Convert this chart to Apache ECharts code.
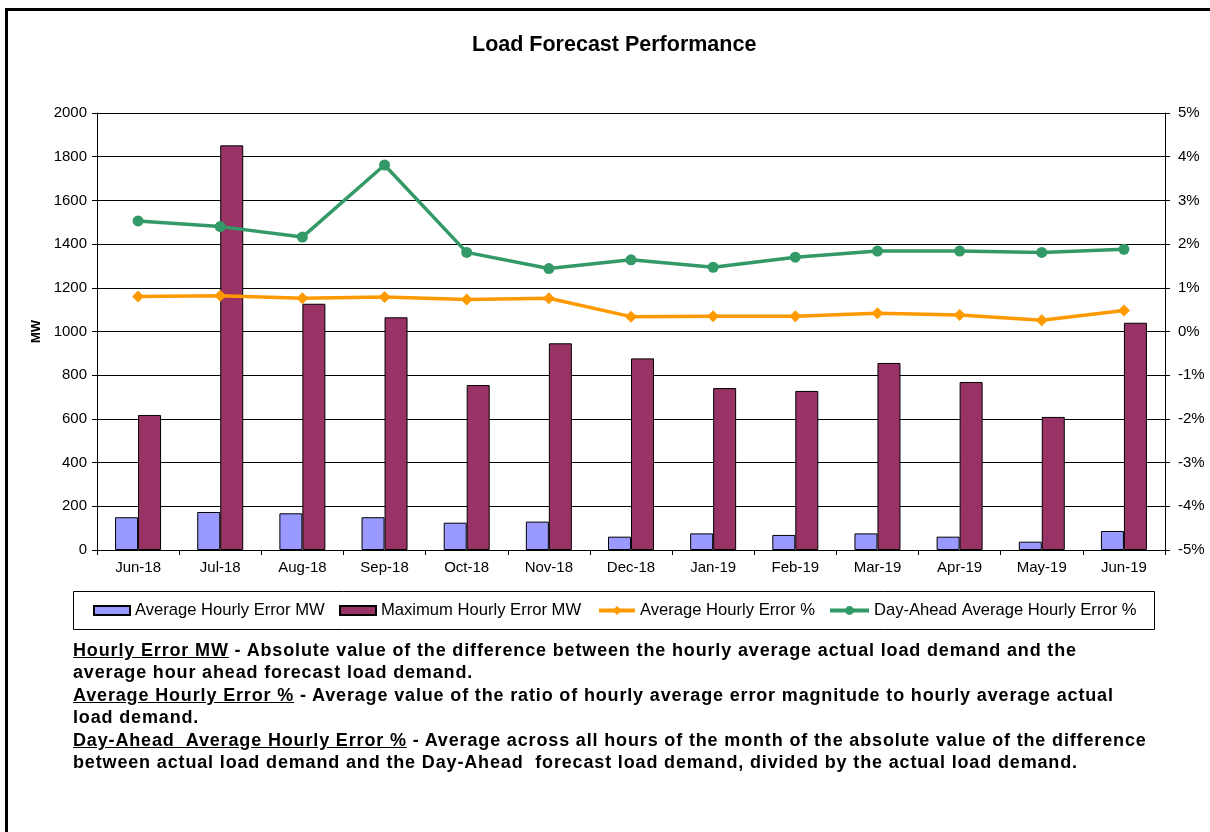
<!DOCTYPE html>
<html>
<head>
<meta charset="utf-8">
<script src="https://cdn.jsdelivr.net/npm/echarts@6/dist/echarts.min.js"></script>
<style>
html,body{margin:0;padding:0;background:#fff;overflow:hidden;}
#frame{position:absolute;left:5px;top:8px;width:1230px;height:850px;border:3px solid #000;box-sizing:border-box;}
#chart{position:absolute;left:0;top:0;width:1210px;height:832px;}
#notes{position:absolute;left:73px;top:639px;font-family:"Liberation Sans",Arial,sans-serif;font-weight:bold;font-size:18px;line-height:22.4px;color:#000;white-space:nowrap;letter-spacing:0.85px;}
#notes u{text-decoration:underline;}
</style>
</head>
<body>
<div id="frame"></div>
<div id="chart"></div>
<div id="notes">
<u>Hourly Error MW</u> - Absolute value of the difference between the hourly average actual load demand and the<br>
average hour ahead forecast load demand.<br>
<u>Average Hourly Error %</u> - Average value of the ratio of hourly average error magnitude to hourly average actual<br>
load demand.<br>
<u>Day-Ahead&nbsp; Average Hourly Error %</u> - Average across all hours of the month of the absolute value of the difference<br>
between actual load demand and the Day-Ahead&nbsp; forecast load demand, divided by the actual load demand.
</div>
<script>
var categories = ['Jun-18','Jul-18','Aug-18','Sep-18','Oct-18','Nov-18','Dec-18','Jan-19','Feb-19','Mar-19','Apr-19','May-19','Jun-19'];
var avgErrorMW = [150,174,168,150,125,130,61,76,69,76,61,38,87];
var maxErrorMW = [618,1852,1127,1065,755,946,877,741,728,856,769,609,1040];
var avgErrorPct = [0.80,0.82,0.76,0.79,0.73,0.76,0.34,0.35,0.35,0.42,0.38,0.26,0.48];
var dayAheadPct = [2.53,2.40,2.16,3.81,1.81,1.44,1.64,1.47,1.70,1.84,1.84,1.81,1.88];
var seriesNames = ['Average Hourly Error MW','Maximum Hourly Error MW','Average Hourly Error %','Day-Ahead Average Hourly Error %'];

var chart = echarts.init(document.getElementById('chart'));
var font = '"Liberation Sans", Arial, sans-serif';
var legendLefts = [93, 339, 597, 828];
var legendWidths = [36, 36, 36, 39];
var legends = seriesNames.map(function(n, i){
  return {
    left:legendLefts[i], top:602, padding:0, itemWidth:legendWidths[i], itemHeight:(i<2?9:11), itemGap:0,
    textStyle:{fontFamily:font,fontSize:16.6,color:'#000'},
    lineStyle:{width:4},
    data:[i<2?{name:n,icon:'rect'}:{name:n}]
  };
});
chart.setOption({
  animation:false,
  backgroundColor:'transparent',
  title:{text:'Load Forecast Performance',left:467,top:29,textStyle:{fontFamily:font,fontWeight:'bold',fontSize:21.5,color:'#000'}},
  graphic:[{type:'rect',shape:{x:73.5,y:591.5,width:1081,height:38},style:{fill:'#fff',stroke:'#000',lineWidth:1},z:-1}],
  legend:legends,
  grid:{left:97,right:45,top:113,bottom:282},
  xAxis:{
    type:'category',data:categories,
    axisLine:{lineStyle:{color:'#000',width:1}},
    axisTick:{show:true,length:5,lineStyle:{color:'#000'}},
    axisLabel:{color:'#000',fontFamily:font,fontSize:15,margin:10}
  },
  yAxis:[
    {type:'value',min:0,max:2000,interval:200,name:'MW',nameLocation:'middle',nameGap:54,
     nameTextStyle:{fontFamily:font,fontWeight:'bold',fontSize:13,color:'#000'},
     axisLine:{show:true,lineStyle:{color:'#000'}},
     axisTick:{show:true,length:5,lineStyle:{color:'#000'}},
     axisLabel:{color:'#000',fontFamily:font,fontSize:15,margin:10,formatter:function(v){return String(v);}},
     splitLine:{show:true,lineStyle:{color:'#000',width:1}}},
    {type:'value',min:-5,max:5,interval:1,position:'right',
     axisLine:{show:true,lineStyle:{color:'#000'}},
     axisTick:{show:true,length:5,lineStyle:{color:'#000'}},
     axisLabel:{color:'#000',fontFamily:font,fontSize:15,margin:13,formatter:'{value}%'},
     splitLine:{show:false}}
  ],
  series:[
    {name:seriesNames[0],type:'bar',data:avgErrorMW,barWidth:23,barGap:'0%',
     itemStyle:{color:'#9999FF',borderColor:'#000',borderWidth:1}},
    {name:seriesNames[1],type:'bar',data:maxErrorMW,barWidth:23,barGap:'0%',
     itemStyle:{color:'#993366',borderColor:'#000',borderWidth:1}},
    {name:seriesNames[2],type:'line',yAxisIndex:1,data:avgErrorPct,symbol:'diamond',symbolSize:12,
     lineStyle:{color:'#FF9900',width:3.5},itemStyle:{color:'#FF9900'}},
    {name:seriesNames[3],type:'line',yAxisIndex:1,data:dayAheadPct,symbol:'circle',symbolSize:11,
     lineStyle:{color:'#339966',width:3.5},itemStyle:{color:'#339966'}}
  ]
});
</script>
</body>
</html>
